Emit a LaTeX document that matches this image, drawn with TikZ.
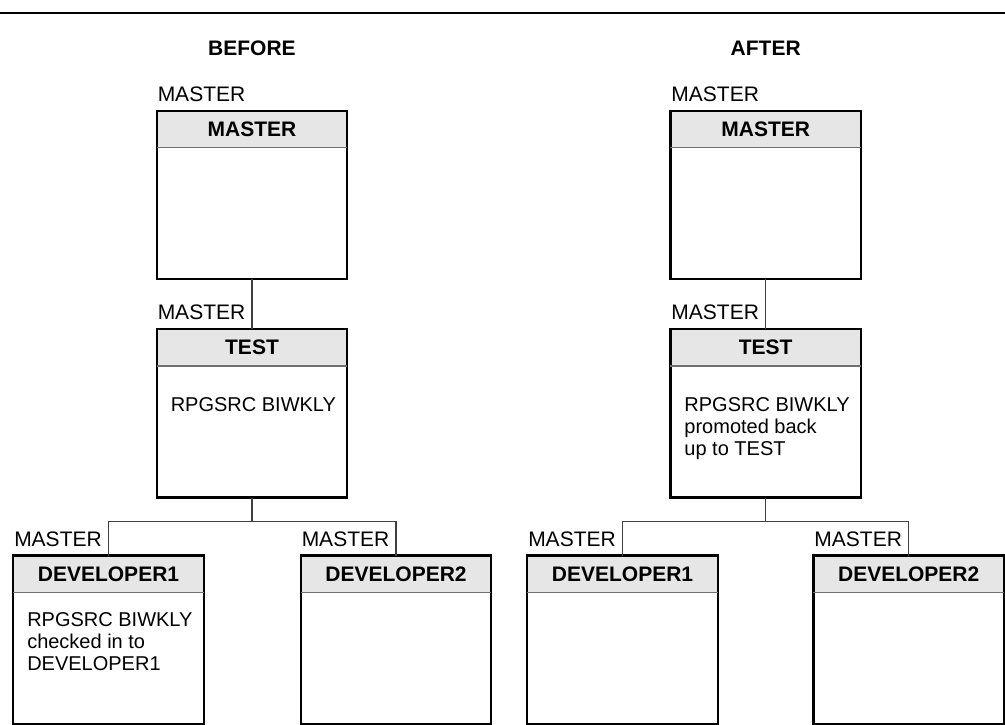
\documentclass[tikz,border=0pt]{standalone}
\usepackage{fontspec}
\setmainfont{Liberation Sans}
\usetikzlibrary{calc}
\definecolor{hdrgray}{HTML}{E6E6E6}
\definecolor{sepgray}{HTML}{707070}
\definecolor{linkgray}{HTML}{404040}
\begin{document}
\begin{tikzpicture}[x=1pt,y=-1pt,
  every node/.style={inner sep=0pt, outer sep=0pt},
  unitbox/.style={draw=black, line width=2.2pt, minimum width=190.5pt, minimum height=168.5pt, anchor=north},
  hdr/.style={fill=hdrgray, minimum width=190.5pt, minimum height=37pt, anchor=north,
    font=\fontsize{21}{25}\selectfont\bfseries},
  sepline/.style={draw=sepgray, line width=1.1pt},
  link/.style={draw=linkgray, line width=1.3pt},
  lbl/.style={anchor=base west, font=\fontsize{21}{25}\selectfont},
  body/.style={anchor=north west, align=left, font=\fontsize{20}{22}\selectfont},
  heading/.style={anchor=base, font=\fontsize{21}{25}\selectfont\bfseries}]

\useasboundingbox (0,0) rectangle (1005,725);
\clip (0,0) rectangle (1005,725);

% top rule
\coordinate (ruleL) at (0,13);
\coordinate (ruleR) at (1005,13);
\draw[line width=1.5pt, black] (ruleL) -- (ruleR);

% a library unit: name, centre x, top y, title
\newcommand\drawunit[4]{%
  \node[hdr] (#1h) at (#2,#3) {#4};
  \node[unitbox] (#1) at (#2,#3) {};
  \draw[sepline] (#1h.south west) -- (#1h.south east);
  \node[lbl] (#1l) at ($(#1.north west)+(1,-9.5)$) {MASTER};
}

% headings
\node[heading] (before) at (252,56) {BEFORE};
\node[heading] (after) at (765.7,56) {AFTER};

% BEFORE hierarchy
\drawunit{ma}{252}{110.7}{MASTER}
\drawunit{ta}{252}{329}{TEST}
\drawunit{da}{108.5}{555.5}{DEVELOPER1}
\drawunit{ea}{396}{555.5}{DEVELOPER2}

\node[body] (tatext) at ($(ta.north west)+(14,69)$) {RPGSRC BIWKLY};
\node[body] (datext) at ($(da.north west)+(14,57.5)$) {RPGSRC BIWKLY\\checked in to\\DEVELOPER1};

\coordinate (bra) at (252,521.7);
\draw[link] (ma.south) -- (ta.north);
\draw[link] (ta.south) -- (bra);
\draw[link] (da.north) |- (bra) -| (ea.north);

% AFTER hierarchy
\drawunit{mb}{765.7}{110.7}{MASTER}
\drawunit{tb}{765.7}{329}{TEST}
\drawunit{db}{622.5}{555.5}{DEVELOPER1}
\drawunit{eb}{908.7}{555.5}{DEVELOPER2}

\node[body] (tbtext) at ($(tb.north west)+(14,69)$) {RPGSRC BIWKLY\\promoted back\\up to TEST};

\coordinate (brb) at (765.7,521.7);
\draw[link] (mb.south) -- (tb.north);
\draw[link] (tb.south) -- (brb);
\draw[link] (db.north) |- (brb) -| (eb.north);
\end{tikzpicture}
\end{document}
